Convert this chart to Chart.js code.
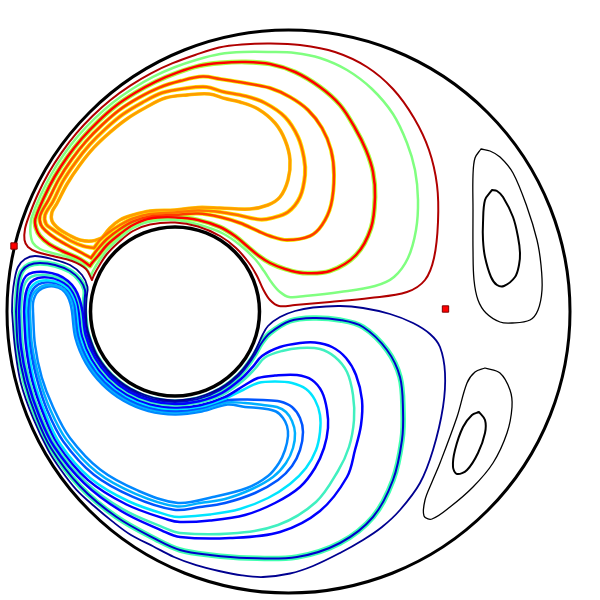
<!DOCTYPE html>
<html><head><meta charset="utf-8">
<script src="https://cdn.jsdelivr.net/npm/chart.js@4.4.1/dist/chart.umd.min.js"></script>
<style>html,body{margin:0;padding:0;background:#fff}#w{width:600px;height:600px}</style>
</head><body><div id="w"><canvas id="c" width="600" height="600"></canvas></div>
<script>
// Boundary circles: [cx, cy, r] in plot units
const outerWall = [288.5, 311.5, 281.5];
const innerWall = [175, 311.5, 84.5];
// Stagnation markers
const markers = [[14, 246], [445.5, 309]];

// Upper (red family) streamlines, outer to inner
const upper1 = [[92,280],[86,269],[72,261],[53,256],[37,252],[28,247],[24.5,240],[25,229],[28.7,216.9],[37.7,194.5],[48.6,173],[61.6,152.6],[76.3,133.4],[92.8,115.8],[110.8,99.7],[130.3,85.6],[151,73.3],[172.7,63.2],[195.1,55],[219,47.5],[242,44.5],[270,43.5],[300,45],[335,52],[367,67],[393,89],[414,118],[429,150],[437,185],[438,222],[434,258],[425,280],[407,292],[370,298],[330,302],[295,305],[279,306],[270,300],[263,289],[257,276],[249,263],[236,248],[220,236],[198,226.5],[175,222.5],[150,224.5],[133,231],[119,242],[107,254],[99,266],[94,275],[92,280]];
const upper2 = [[91,276],[84,266],[70,258],[52,253],[40,249],[33,243],[30.5,234],[30.5,225],[31.5,218],[40.4,195.8],[51.2,174.5],[64,154.3],[78.6,135.4],[95.1,118.1],[113,102.4],[132.5,88.7],[153,76.8],[174.6,67.25],[196.8,59.7],[220,54],[243,52],[270,52],[295,53],[320,58],[347,70],[372,89],[393,114],[407,143],[415,170],[418,200],[416,230],[408,258],[394,277],[375,286],[340,292],[305,296],[289,297],[280,292],[272,283],[264,271],[255,259],[240,245],[222,233],[200,225],[175,220],[150,221.5],[133,228],[120,238],[108,249],[99,261],[93,271],[91,276]];
const upper3 = [[90,266],[80,259],[62,251],[49,244],[40,236],[36,228],[35.2,219.3],[44,197.5],[54.7,176.5],[67.5,156.8],[82.1,138.3],[98.3,121.3],[115.9,105.8],[135.3,92.8],[155.75,81.6],[177.1,72.7],[199.1,65.8],[220,63],[245,62],[270,64],[295,72],[320,87],[340,105],[355,128],[366,150],[373,172],[375,197],[371,228],[356,255],[330,271],[303,273],[285,269],[270,263],[259,256],[247,246],[235,236],[220,227],[198,220],[175,217.5],[150,218.5],[133,225],[120,234],[107,245],[98,256],[92,263],[90,266]];
const upper4 = [[91,258],[82,253],[67,245],[55,238],[46,231],[41,225],[40,216],[48.6,199.6],[59,179],[71.6,159.6],[85.9,141.5],[102,125],[119.4,110],[138.8,97.7],[159.25,87.6],[180.9,80.8],[202.8,76.6],[220,79],[245,83],[270,88],[290,97],[308,110],[322,128],[331,150],[334,175],[331,205],[322,225],[310,236],[287,240],[270,236],[258,231],[240,223],[220,217],[198,213.5],[175,215],[150,216.5],[133,221.5],[120,229],[107,239],[97,250],[91,258]];
const upper5 = [[94,248],[83,246],[71,241],[61,235],[52,229],[46,224],[45,215],[52.9,201.6],[62.9,181.25],[75.5,162.4],[89.7,144.7],[105.7,128.7],[123,114.3],[142.2,102.6],[162.25,92.8],[184.5,88.5],[206.6,87],[222,91.5],[245,96],[265,103],[285,117],[298,137],[304,158],[305,175],[300,197],[288,212],[272,218],[260,219.5],[240,215.5],[220,212],[198,210.5],[175,212.5],[150,214],[133,218.5],[120,225],[108,233],[100,240],[94,248]];
const upper6 = [[102,238],[92,241],[80,240],[69,235],[59,229],[52,221],[52,212],[56.9,203.5],[67.2,183.75],[79.6,165.2],[93.6,147.9],[109.6,132.6],[126.8,118.9],[145.7,107.5],[165.25,98],[187.5,94.9],[209.3,94],[225,98.5],[240,102],[258,109],[275,123],[285,140],[290,160],[288,180],[280,197],[268,205],[250,209],[220,208],[198,207.5],[175,210],[150,211],[133,215],[120,220],[110,228],[102,238]];

// Lower (blue family) streamlines, outer to inner
const lower1 = [[12,311.5],[12.5,296],[14.5,280],[18,267],[25,259],[35,256],[52,259],[70,265],[82,275],[87.5,287],[86.5,298],[86,311.5],[87,327],[91.4,342],[97.5,356],[106.8,369],[118,380],[130.5,388.6],[145,395],[159.5,399],[175,400.5],[190.5,399],[205,395],[219.5,388.6],[232,380],[243,369],[251,358],[257,347],[262,336],[268,326],[280,317],[295,311],[313,307.5],[340,306],[363,308],[390,314],[413,323],[430,334],[440,347],[445,373],[443,407],[433,450],[420,483],[400,510],[382,527],[363,540],[340,553],[313,566],[290,573.5],[263,577],[242,575.4],[219,571],[196.2,565.2],[174,557],[153,546.2],[131,535],[112.4,521.4],[94,506],[76.3,489.6],[61,470],[48.2,450.25],[33,418],[20.9,383.2],[15,348],[12,311.5]];
const lower2 = [[16,311.5],[17,296],[18.5,281],[22,271],[29,265],[40,263],[55,265],[70,271],[80,280],[85,290],[84.6,300],[84.5,311.5],[87.6,334.9],[96.6,356.8],[111,375.5],[129.75,389.9],[151.6,398.9],[175,402],[198.4,398.9],[220.25,389.9],[239,375.5],[253.4,356.8],[261.5,343],[270,333],[290,321],[313,318],[340,320],[363,327],[387,350],[400,377],[403,410],[402,440],[393,480],[373,517],[340,543],[297,557],[247,558],[210,555],[180,550],[156.75,539.7],[116.2,516.8],[80.1,486.3],[51.2,448.5],[36,416],[24.8,382.15],[18,347],[16,311.5]];
const lower3 = [[19,311.5],[20,296],[22,284],[26,276],[33,272.5],[45,272],[58,275],[68,281],[75,289],[79.5,299],[82.5,311.5],[85.65,335.4],[94.9,357.75],[109.6,376.9],[128.75,391.6],[151.1,400.8],[175,404],[199.1,401.3],[222,392.9],[241.8,378.3],[253.2,366.3],[262,356],[280,347],[300,343],[315,342.5],[332,347],[346,358],[356,375],[362,400],[361,425],[355,450],[347,477],[320,511],[280,532],[230,538],[180,537],[162,530.6],[121.05,511],[84,483.1],[54.25,446.75],[38.9,415],[27.7,381.4],[21,347],[19,311.5]];
const lower3b = [[21,311.5],[22,297],[24,286],[28,279],[35,275.5],[47,275],[59,278],[69,284],[75,292],[79,302],[81,311.5],[84.2,335.8],[93.6,358.5],[108.5,378],[128,392.9],[150.7,402.3],[175,405.5],[199.5,402.8],[223,394.6],[243.6,380.1],[255.7,368],[265,357.5],[282,351],[300,348],[320,349],[335,357],[347,372],[353,395],[354,420],[349,447],[338,471],[316,502],[278,525],[230,533.5],[180,533],[163.75,527.6],[122.7,509.1],[85.5,481.8],[56,445.75],[40.5,414],[29.6,380.9],[23,347],[21,311.5]];
const lower4 = [[24,311.5],[25,298],[27,289],[31,282],[38,278],[49,277.5],[60,280.5],[69,286.5],[74,294],[77.5,303],[79,311.5],[82.3,336.3],[91.9,359.5],[107.1,379.4],[127,394.6],[150.2,404.2],[175,407.5],[200.1,405.2],[224.5,397.2],[245,385],[258,378],[275,375.5],[297,375],[312,380],[322,392],[327,410],[328,428],[324,448],[315,468],[300,487],[275,503],[245,515],[210,520.5],[180,522],[168.25,519.8],[126.5,504.5],[87.8,479.9],[57.7,444.75],[43,413],[32.1,380.2],[26,346],[24,311.5]];
const lower4b = [[26,311.5],[27,299],[29,291],[33,285],[40,281],[50,280.5],[61,283.5],[69,289.5],[73.5,297],[76.5,305],[77.5,311.5],[80.8,336.7],[90.6,360.25],[106.1,380.4],[126.25,395.9],[149.8,405.7],[175,409],[200.5,406.6],[225.25,398.5],[243,390],[258,383],[275,381.5],[292,383],[306,389],[315,400],[320,415],[320,432],[316,450],[306,468],[290,484],[268,498],[240,509],[210,514.5],[180,517],[170.5,515.9],[129.1,501.5],[90.1,478],[59.9,443.5],[45,412],[34,379.7],[28,346],[26,311.5]];
const lower5 = [[28,311.5],[29,300],[31,293],[35,287],[42,283],[52,282.5],[62,285.5],[69,291.5],[73,299],[75,306],[75.5,311.5],[78.9,337.3],[88.8,361.25],[104.6,381.9],[125.25,397.7],[149.25,407.6],[175,411],[200.9,408.1],[226,400.5],[245,399.5],[263,400],[280,401.5],[292,407],[300,418],[303,432],[300,450],[292,466],[278,480],[255,493],[225,503],[200,507],[174,509.8],[132.9,496.9],[93.9,474.8],[63.3,441.5],[47.5,411],[36.9,378.9],[30,345],[28,311.5]];
const lower6 = [[30,311.5],[30.5,302],[32.5,295],[37,289.5],[44,285.5],[53,285],[62,288],[68.5,294],[72,302],[73.5,307],[74,311.5],[77.4,337.6],[87.5,362],[103.6,382.9],[124.5,399],[148.9,409.1],[175,412.5],[201.3,409.5],[226.5,402.5],[245,403],[263,405],[277,407],[286,412],[292,421],[295,433],[293,448],[286,463],[273,477],[252,489],[225,499],[200,503],[176,506.35],[135.5,493.8],[97,472.2],[66.4,439.75],[50,409],[39.3,378.3],[32,345],[30,311.5]];
const lower7 = [[33,311.5],[33,303],[35,296],[39,290.5],[46,287],[54,286.5],[62,289.5],[67.5,296],[70.5,304],[72,311.5],[75.5,338.2],[85.8,363],[102.2,384.3],[123.5,400.7],[148.3,411],[175,414.5],[201.8,411.5],[227.5,404.5],[245,407],[263,408.5],[276,411.5],[283,418],[287,426],[288,436],[285,450],[279,463],[268,476],[247,488],[213,497],[178,502.9],[138.1,490.7],[100.1,469.6],[69.8,437.75],[53,407],[41.7,377.4],[35,345],[33,311.5]];

// Right-side small cells (black)
const rightUpperOuter = [[481,149],[490,151],[500,157],[513,173],[527,207],[537,240],[541,265],[542,290],[538,310],[530,320],[512,323],[500,322],[486,313],[478,300],[474,280],[473,250],[473,210],[473,175],[475,158],[481,149]];
const rightUpperInner = [[492,190],[497,191],[503,197],[513,217],[518,237],[520,253],[519,265],[515,277],[504,286],[497,285],[491,277],[485,257],[483,240],[483,223],[485,200],[492,190]];
const rightLowerOuter = [[485,368],[500,373],[510,390],[512,407],[507,433],[493,463],[473,487],[450,507],[432,519],[424,516],[425,500],[432,482],[440,463],[457,417],[467,383],[475,372],[485,368]];
const rightLowerInner = [[479,412],[485,420],[485,433],[478,453],[467,470],[457,474],[453,467],[455,450],[463,427],[472,415],[479,412]];

const toXY = a => a.map(p => ({x: p[0], y: p[1]}));
function curve(pts, color, width, order) {
  return {type: 'scatter', data: toXY(pts), showLine: true, borderColor: color, backgroundColor: color,
    borderWidth: width, pointRadius: 0, tension: 0.35, fill: false, order: order,
    borderJoinStyle: 'round', borderCapStyle: 'round'};
}
const datasets = [
  {type: 'scatter', data: toXY(markers), pointStyle: 'rect', pointRadius: 4.5, backgroundColor: '#ff0000', borderColor: '#7a0000', borderWidth: 1, order: 0},
  {type: 'bubble', data: [{x: outerWall[0], y: outerWall[1], r: outerWall[2]}], radius: 0, backgroundColor: 'rgba(0,0,0,0)', borderColor: '#000', borderWidth: 3, order: 1, clip: false},
  {type: 'bubble', data: [{x: innerWall[0], y: innerWall[1], r: innerWall[2]}], radius: 0, backgroundColor: 'rgba(0,0,0,0)', borderColor: '#000', borderWidth: 3.5, order: 1, clip: false},
  // halos (drawn beneath)
  curve(upper3, '#aaff3a', 4.8, 4),
  curve(upper4, '#eef000', 4, 4),
  curve(upper5, '#ffe600', 4.2, 4),
  curve(upper6, '#ffcc00', 3.6, 4),
  curve(lower2, '#40ffb0', 5.5, 4),
  // main lines
  curve(upper1, '#b00000', 2, 2),
  curve(upper2, '#80ff80', 2.5, 2),
  curve(upper3, '#ff0000', 2.5, 2),
  curve(upper4, '#ff3c00', 2.5, 2),
  curve(upper5, '#ff7000', 2.5, 2),
  curve(upper6, '#ff9c00', 2.5, 2),
  curve(lower1, '#000090', 1.8, 2),
  curve(lower2, '#0000cc', 2, 2),
  curve(lower3, '#0000ff', 2.5, 2),
  curve(lower3b, '#40f0c0', 2.5, 2),
  curve(lower4, '#0000ff', 2.5, 2),
  curve(lower4b, '#00e5ff', 2.5, 2),
  curve(lower5, '#0055ff', 2.5, 2),
  curve(lower6, '#00b0ff', 2.5, 2),
  curve(lower7, '#0088ff', 2.5, 2),
  curve(rightUpperOuter, '#000', 1.3, 2),
  curve(rightUpperInner, '#000', 2, 2),
  curve(rightLowerOuter, '#000', 1.3, 2),
  curve(rightLowerInner, '#000', 2, 2)
];

new Chart(document.getElementById('c'), {
  type: 'scatter',
  data: {datasets},
  options: {
    responsive: false, animation: false, events: [], devicePixelRatio: 1,
    layout: {padding: 0, autoPadding: false},
    plugins: {legend: {display: false}, tooltip: {enabled: false}},
    elements: {point: {radius: 0}},
    scales: {
      x: {type: 'linear', min: 0, max: 600, display: false},
      y: {type: 'linear', min: 0, max: 600, reverse: true, display: false}
    }
  }
});
</script></body></html>
